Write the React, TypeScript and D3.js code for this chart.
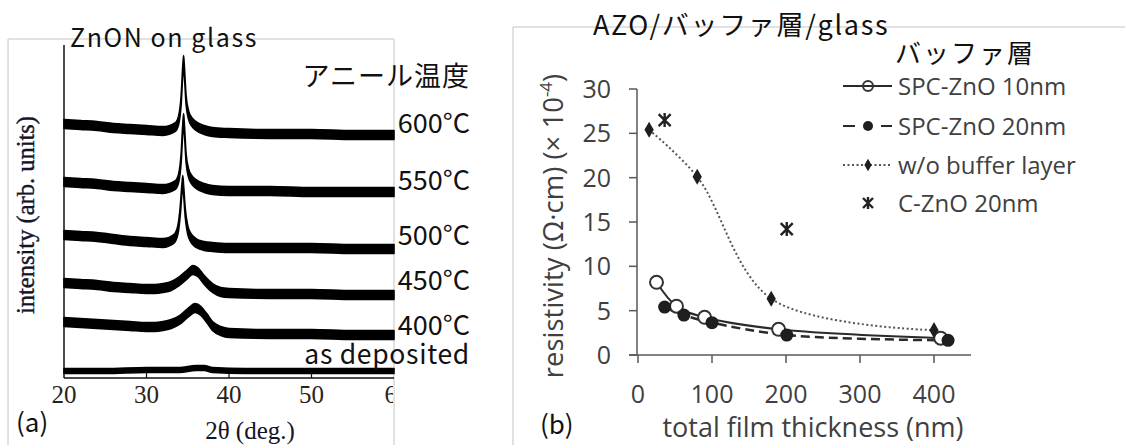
import React from 'react';
import * as d3 from 'd3';

type Pt = [number, number];

// (a) XRD of ZnON on glass, [2θ (deg), intensity (arb. units, stacked)]
const xrd600: Pt[] = [
  [20, 254], [22, 253], [24, 252], [26, 250], [28, 249], [30, 248], [32, 247], [33.5, 251],
  [33.9, 258], [34.2, 278], [34.4, 308], [34.5, 318], [34.6, 306], [34.8, 278], [35.1, 263],
  [35.5, 256], [36, 252], [37, 248], [38, 246], [40, 245], [45, 244], [50, 244], [55, 243], [60, 243],
];
const xrd550: Pt[] = [
  [20, 196], [22, 195], [24, 194], [26, 192], [28, 191], [30, 190], [32, 189], [33.5, 193],
  [33.9, 200], [34.2, 220], [34.4, 250], [34.5, 260], [34.6, 248], [34.8, 220], [35.1, 205],
  [35.5, 198], [36, 194], [37, 190], [38, 188], [40, 187], [45, 187], [50, 186], [55, 186], [60, 186],
];
const xrd500: Pt[] = [
  [20, 143], [22, 142], [24, 141], [26, 139], [28, 137], [30, 136], [32, 135], [33.3, 139],
  [33.8, 148], [34.1, 168], [34.3, 190], [34.4, 198], [34.5, 188], [34.7, 165], [35, 148],
  [35.4, 140], [36, 135], [37, 132], [38, 131], [40, 130], [45, 130], [50, 130], [55, 129], [60, 129],
];
const xrd450: Pt[] = [
  [20, 95], [22, 94], [24, 93], [26, 91], [28, 90], [30, 89], [31, 89], [32, 90], [33, 92],
  [34, 97], [35, 104], [35.6, 108], [36.2, 106], [37, 98], [38, 90], [39, 86], [40, 85],
  [45, 84], [50, 84], [55, 83], [60, 83],
];
const xrd400: Pt[] = [
  [20, 56], [22, 55], [24, 54], [26, 53], [28, 52], [30, 51], [31, 51], [32, 52], [33, 54],
  [34, 58], [35, 65], [35.9, 70], [36.6, 67], [37.3, 60], [38, 52], [39, 47], [40, 45],
  [45, 44], [50, 44], [55, 43], [60, 43],
];
const xrdAsDep: Pt[] = [
  [20, 7], [25, 7], [30, 8], [34, 8], [36, 10], [37, 10], [38, 8], [42, 7], [50, 7], [60, 7],
];
const xrdLabels = ['600°C', '550°C', '500°C', '450°C', '400°C', 'as deposited'];
const xrdTicks = [20, 30, 40, 50, 60];

// (b) resistivity vs total film thickness
const thick10 = [25, 52, 90, 190, 409];
const rho10 = [8.2, 5.5, 4.25, 2.9, 1.9];
const thick20 = [36, 62, 100, 201, 419];
const rho20 = [5.4, 4.5, 3.65, 2.25, 1.65];
const thickNoBuf = [15, 80, 180, 400];
const rhoNoBuf = [25.4, 20.1, 6.35, 2.8];
const thickC = [36, 201];
const rhoC = [26.5, 14.2];
const legendNames = ['SPC-ZnO 10nm', 'SPC-ZnO 20nm', 'w/o buffer layer', 'C-ZnO 20nm'];
const thickTicks = [0, 100, 200, 300, 400];
const rhoTicks = [0, 5, 10, 15, 20, 25, 30];

const JP = '"Noto Sans CJK JP", "Noto Sans", sans-serif';
const SERIF = '"Liberation Serif", "DejaVu Serif", serif';
const XL = '"Open Sans", "Noto Sans", sans-serif';
const GREY = '#404040';

const ax = d3.scaleLinear().domain([20, 60]).range([64, 394]);
const ay = d3.scaleLinear().domain([0, 333]).range([378, 45]);
const bx = d3.scaleLinear().domain([0, 450]).range([638, 971]);
const by = d3.scaleLinear().domain([0, 30]).range([355, 89]);

function band(half: number) {
  return d3
    .area<Pt>()
    .x((d) => ax(d[0]))
    .y0((d) => ay(d[1]) + half)
    .y1((d) => ay(d[1]) - half)
    .curve(d3.curveMonotoneX);
}

const zip = (xs: number[], ys: number[]): Pt[] => xs.map((x, i) => [x, ys[i]]);

const line = d3
  .line<Pt>()
  .x((d) => bx(d[0]))
  .y((d) => by(d[1]))
  .curve(d3.curveCatmullRom.alpha(0.5));

function Marker({ kind, x, y, small }: { kind: string; x: number; y: number; small?: boolean }) {
  const r = small ? 5 : 6.5;
  if (kind === 'open')
    return <circle cx={x} cy={y} r={r} fill={small ? 'none' : '#fff'} stroke="#333" strokeWidth={2} />;
  if (kind === 'filled') return <circle cx={x} cy={y} r={r} fill="#1e1e1e" />;
  if (kind === 'diamond')
    return (
      <path
        transform={`translate(${x},${y})`}
        d={d3.symbol(d3.symbolDiamond, small ? 45 : 75)() as string}
        fill="#1e1e1e"
      />
    );
  const s = small ? 5 : 6;
  return (
    <path
      d={`M${x - s},${y - s}L${x + s},${y + s}M${x + s},${y - s}L${x - s},${y + s}M${x},${y - s - 1}L${x},${y + s + 1}`}
      stroke="#222"
      strokeWidth={2.4}
      fill="none"
    />
  );
}

export default function App() {
  const traces = [xrd600, xrd550, xrd500, xrd450, xrd400, xrdAsDep];
  const labelY = [133, 190, 245, 290, 335, 364];

  const series = [
    { kind: 'open', pts: zip(thick10, rho10), dash: undefined, w: 2 },
    { kind: 'filled', pts: zip(thick20, rho20), dash: '9,5', w: 2.5 },
    { kind: 'diamond', pts: zip(thickNoBuf, rhoNoBuf), dash: '2,2.5', w: 2 },
  ];
  const legendRows = [86, 126, 165, 203];
  const legendKinds = ['open', 'filled', 'diamond', 'star'];
  const legendDash = [undefined, '12,26', '2,2.5', null];

  return (
    <svg
      width={1125}
      height={445}
      style={{ position: 'absolute', left: 0, top: 0, background: '#fff' }}
    >
      <defs>
        <clipPath id="clipA">
          <rect x={0} y={0} width={393} height={445} />
        </clipPath>
      </defs>

      {/* ---------- panel (a) ---------- */}
      <path d="M8,445V39H394V445" fill="none" stroke="#c4c4c4" strokeWidth={1} />
      <line x1={ax(20)} x2={ax(20)} y1={45} y2={ay(0)} stroke="#111" strokeWidth={1.5} />
      <line x1={ax(20)} x2={ax(60)} y1={ay(0)} y2={ay(0)} stroke="#111" strokeWidth={1.5} />
      {xrdTicks.slice(1, -1).map((t) => (
        <line key={t} x1={ax(t)} x2={ax(t)} y1={ay(0)} y2={ay(0) - 6} stroke="#111" strokeWidth={1.2} />
      ))}
      <g clipPath="url(#clipA)">
        {xrdTicks.map((t) => (
          <text
            key={t}
            x={ax(t) + (t === 60 ? 3 : 0)}
            y={403}
            textAnchor="middle"
            fontFamily={SERIF}
            fontSize={25}
            fill="#2a2218"
          >
            {t}
          </text>
        ))}
      </g>
      {traces.map((tr, i) => (
        <path
          key={i}
          d={band(i === 5 ? 2.5 : 4.4)(tr) as string}
          fill="#000"
          stroke="#000"
          strokeWidth={1.6}
          strokeLinejoin="round"
        />
      ))}
      <text
        transform="translate(34,215) rotate(-90)"
        textAnchor="middle"
        fontFamily={SERIF}
        fontSize={24.5}
        fill="#15152a"
        stroke="#15152a"
        strokeWidth={0.4}
      >
        intensity (arb. units)
      </text>
      <text x={250} y={439} textAnchor="middle" fontFamily={SERIF} fontSize={25} fill="#15152a">
        2θ (deg.)
      </text>
      <text x={16} y={432} fontFamily={JP} fontSize={26} fill="#111">
        (a)
      </text>
      <text x={70} y={47} fontFamily={JP} fontSize={25} fill="#111" letterSpacing={1.6}>
        ZnON on glass
      </text>
      <text x={470} y={86} textAnchor="end" fontFamily={JP} fontSize={27} fill="#111" letterSpacing={1}>
        アニール温度
      </text>
      {xrdLabels.map((l, i) => (
        <text
          key={l}
          x={470}
          y={labelY[i]}
          textAnchor="end"
          fontFamily={JP}
          fontSize={i === 5 ? 26.5 : 27}
          fill="#111"
          letterSpacing={i === 5 ? 0.7 : 0}
        >
          {l}
        </text>
      ))}

      {/* ---------- panel (b) ---------- */}
      <path d="M513,445V27H1125" fill="none" stroke="#c4c4c4" strokeWidth={1} />
      <text x={593} y={35} fontFamily={JP} fontSize={27} fill="#111" letterSpacing={1.7}>
        AZO/バッファ層/glass
      </text>
      <text x={895} y={63} fontFamily={JP} fontSize={26} fill="#111" letterSpacing={2}>
        バッファ層
      </text>

      <line x1={bx(0) - 1} x2={bx(0) - 1} y1={by(30)} y2={by(0)} stroke="#595959" strokeWidth={1.5} />
      <line x1={bx(0) - 9} x2={bx(450)} y1={by(0)} y2={by(0)} stroke="#595959" strokeWidth={1.5} />
      {rhoTicks.map((t) => (
        <g key={t}>
          <line x1={bx(0) - 9} x2={bx(0) - 1} y1={by(t)} y2={by(t)} stroke="#595959" strokeWidth={1.5} />
          <text x={611} y={by(t) + 9} textAnchor="end" fontFamily={XL} fontSize={25} fill={GREY}>
            {t}
          </text>
        </g>
      ))}
      {thickTicks.map((t) => (
        <g key={t}>
          <line x1={bx(t)} x2={bx(t)} y1={by(0)} y2={by(0) + 8} stroke="#595959" strokeWidth={1.5} />
          <text x={bx(t)} y={403} textAnchor="middle" fontFamily={XL} fontSize={25} fill={GREY}>
            {t}
          </text>
        </g>
      ))}
      <text
        transform="translate(563,226) rotate(-90)"
        textAnchor="middle"
        fontFamily={XL}
        fontSize={27.5}
        fill={GREY}
      >
        resistivity (Ω·cm) (× 10
        <tspan fontSize={17} dy={-11}>
          -4
        </tspan>
        <tspan dy={11}>)</tspan>
      </text>
      <text x={813} y={437} textAnchor="middle" fontFamily={XL} fontSize={27} fill={GREY}>
        total film thickness (nm)
      </text>
      <text x={540} y={434} fontFamily={JP} fontSize={26} fill="#111">
        (b)
      </text>

      {series.map((s, i) => (
        <path
          key={i}
          d={line(s.pts) as string}
          fill="none"
          stroke={i === 2 ? '#555' : '#2a2a2a'}
          strokeWidth={s.w}
          strokeDasharray={s.dash}
        />
      ))}
      {series.map((s, i) =>
        s.pts.map((p, j) => <Marker key={`${i}-${j}`} kind={s.kind} x={bx(p[0])} y={by(p[1])} />)
      )}
      {zip(thickC, rhoC).map((p, j) => (
        <Marker key={`c-${j}`} kind="star" x={bx(p[0])} y={by(p[1])} />
      ))}

      {legendNames.map((name, i) => (
        <g key={name}>
          {legendDash[i] !== null && (
            <line
              x1={843}
              x2={892}
              y1={legendRows[i]}
              y2={legendRows[i]}
              stroke={i === 2 ? '#555' : '#2a2a2a'}
              strokeWidth={2}
              strokeDasharray={legendDash[i] as string | undefined}
            />
          )}
          <Marker kind={legendKinds[i]} x={868} y={legendRows[i]} small />
          <text x={898} y={legendRows[i] + 9} fontFamily={XL} fontSize={24} fill={GREY}>
            {name}
          </text>
        </g>
      ))}
    </svg>
  );
}
